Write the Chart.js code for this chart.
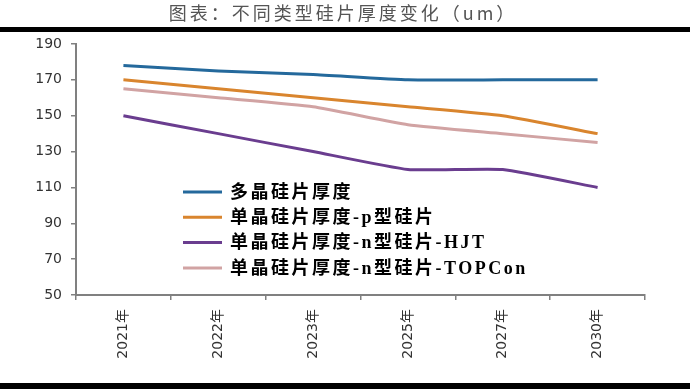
<!DOCTYPE html>
<html>
<head>
<meta charset="utf-8">
<script src="https://cdn.jsdelivr.net/npm/chart.js@4/dist/chart.umd.min.js"></script>
<style>
  html, body { margin: 0; padding: 0; background: #fff; }
  canvas { display: block; }
</style>
</head>
<body>
<canvas id="thicknessChart" width="690" height="389"></canvas>
<script>
const years = ["2021年", "2022年", "2023年", "2025年", "2027年", "2030年"];
const multiSi = [178, 175, 173, 170, 170, 170];
const monoP = [170, 165, 160, 155, 150, 140];
const monoHJT = [150, 140, 130, 120, 120, 110];
const monoTOPCon = [165, 160, 155, 145, 140, 135];
const seriesNames = ["多晶硅片厚度", "单晶硅片厚度-p型硅片", "单晶硅片厚度-n型硅片-HJT", "单晶硅片厚度-n型硅片-TOPCon"];
const titleText = "图表：不同类型硅片厚度变化（um）";

const axisGray = "#808080";

// title + black rules + legend inside plot
const decorPlugin = {
    id: "decor",
    afterDraw(chart) {
        const c = chart.ctx;
        c.save();
        c.fillStyle = "#000";
        c.fillRect(0, 27, 690, 5);
        c.fillRect(0, 383, 690, 6);

        c.fillStyle = "#555";
        c.font = "18px 'Noto Sans CJK SC'";
        c.letterSpacing = "3px";
        c.textAlign = "center";
        c.textBaseline = "middle";
        c.fillText(titleText, 343, 13);

        c.textAlign = "left";
        c.font = "bold 18px 'Liberation Serif', 'Noto Sans CJK SC'";
        c.letterSpacing = "2.5px";
        chart.data.datasets.forEach((ds, i) => {
            const y = 192 + i * 25.3;
            c.strokeStyle = ds.borderColor;
            c.lineWidth = 3;
            c.beginPath();
            c.moveTo(183, y);
            c.lineTo(222, y);
            c.stroke();
            c.fillStyle = "#000";
            c.fillText(ds.label, 230, y + 1);
        });
        c.restore();
    }
};

const ctx = document.querySelector("#thicknessChart").getContext("2d");
const thicknessChart = new Chart(ctx, {
    type: "line",
    data: {
        labels: years,
        datasets: [{
            label: seriesNames[0],
            data: multiSi,
            borderColor: "#24699c",
        }, {
            label: seriesNames[1],
            data: monoP,
            borderColor: "#d9852e",
        }, {
            label: seriesNames[2],
            data: monoHJT,
            borderColor: "#6a3d8f",
        }, {
            label: seriesNames[3],
            data: monoTOPCon,
            borderColor: "#d1a3a3",
        }, ],
    },
    options: {
        responsive: false,
        animation: false,
        elements: {
            line: { borderWidth: 3, tension: 0.15 },
            point: { radius: 0, hoverRadius: 0 },
        },
        layout: {
            padding: { top: 44, left: 0, right: 45, bottom: 0 },
        },
        plugins: {
            legend: { display: false },
            tooltip: { enabled: false },
        },
        scales: {
            x: {
                offset: true,
                afterFit: function(scale) { scale.height = 94; },
                border: { display: true, color: axisGray, width: 2 },
                grid: {
                    offset: true,
                    drawOnChartArea: false,
                    drawTicks: true,
                    tickLength: 5,
                    color: axisGray,
                    lineWidth: 1.5,
                },
                ticks: {
                    minRotation: 90,
                    maxRotation: 90,
                    padding: 9,
                    color: "#333",
                    font: { family: "'DejaVu Sans', 'Noto Sans CJK SC'", size: 14 },
                },
            },
            y: {
                min: 50,
                max: 190,
                afterFit: function(scale) { scale.width = 76; },
                border: { display: true, color: axisGray, width: 2 },
                grid: {
                    drawOnChartArea: false,
                    drawTicks: true,
                    tickLength: 5,
                    color: axisGray,
                    lineWidth: 1.5,
                },
                ticks: {
                    stepSize: 20,
                    padding: 9,
                    color: "#333",
                    font: { family: "'DejaVu Sans'", size: 14 },
                },
            },
        },
    },
    plugins: [decorPlugin],
});
</script>
</body>
</html>
